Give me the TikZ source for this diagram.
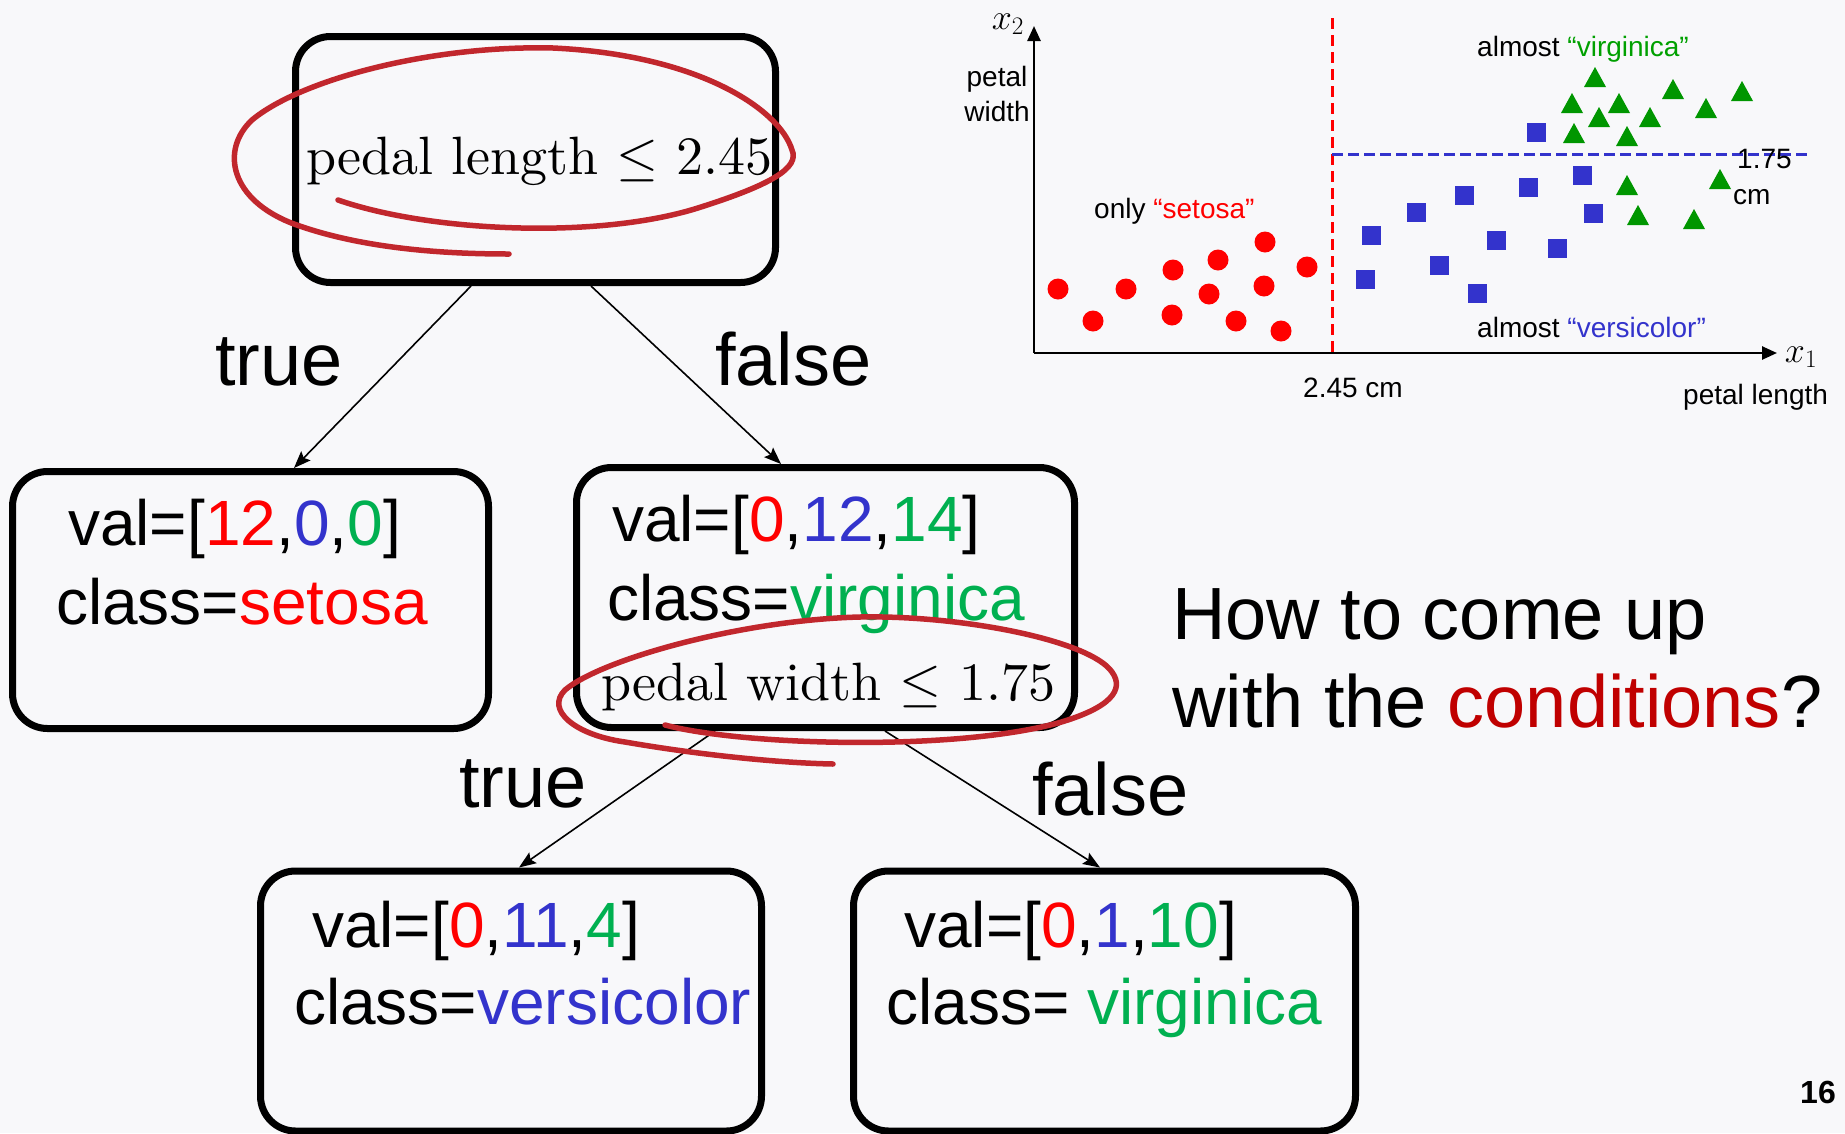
\RequirePackage{fix-cm}
\documentclass[tikz,border=0pt]{standalone}
\usepackage{fontspec}
\newfontfamily\arial{Liberation Sans}
\newfontfamily\lmten{lmroman10-regular.otf}
\usetikzlibrary{arrows.meta,calc}
\definecolor{bg}{RGB}{248,248,250}
\definecolor{cred}{RGB}{255,0,0}
\definecolor{cblue}{RGB}{51,51,204}
\definecolor{cgreen}{RGB}{0,176,80}
\definecolor{pgreen}{RGB}{0,150,0}
\definecolor{lgreen}{RGB}{0,160,0}
\definecolor{cdred}{RGB}{192,0,0}
\definecolor{scr}{RGB}{193,39,45}
\tikzset{
  tbox/.style={draw, line width=7pt, rounded corners=35pt, inner sep=0pt},
  edge/.style={line width=1.6pt, -{Stealth[length=17pt,width=13pt,inset=3pt]}},
  treetxt/.style={font=\arial\fontsize{64}{70}\selectfont, anchor=base west, inner sep=0pt},
  cond/.style={font=\lmten\fontsize{54}{60}\selectfont, anchor=base west, inner sep=0pt},
  lbl/.style={font=\arial\fontsize{74}{80}\selectfont, anchor=base west, inner sep=0pt},
  ptxt/.style={font=\arial\fontsize{28}{32}\selectfont, inner sep=0pt},
  mtxt/.style={font=\fontsize{36}{42}\selectfont, inner sep=0pt},
  scribble/.style={draw=scr, line width=5.5pt, line cap=round},
  axis/.style={line width=2.5pt, -{Triangle[length=15pt,width=13pt]}}
}
\begin{document}
\begin{tikzpicture}[x=1pt,y=-1pt]
\fill[bg] (0,0) rectangle (1845,1133);
\useasboundingbox (0,0) rectangle (1845,1133);

% ---- tree boxes
\node[tbox, minimum width=480pt, minimum height=246pt] (root) at (535.5,159.5) {};
\node[tbox, minimum width=476pt, minimum height=257pt] (left) at (250.5,600) {};
\node[tbox, minimum width=498pt, minimum height=260pt] (mid) at (825.5,597.5) {};
\node[tbox, minimum width=501pt, minimum height=260pt] (bl) at (511,1001) {};
\node[tbox, minimum width=502pt, minimum height=260pt] (br) at (1104.5,1001) {};

% ---- texts in boxes
\node[cond] (rcond) at (306,174) {pedal length $\leq$ 2.45};
\node[treetxt] (lval) at (68,545) {val=[\textcolor{cred}{12},\textcolor{cblue}{0},\textcolor{cgreen}{0}]};
\node[treetxt] (lcls) at (56,624) {class=\textcolor{cred}{setosa}};
\node[treetxt] (mval) at (612,541) {val=[\textcolor{cred}{0},\textcolor{cblue}{12},\textcolor{cgreen}{14}]};
\node[treetxt] (mcls) at (607,620) {class=\textcolor{cgreen}{virginica}};
\node[cond] (mcond) at (601,700) {pedal width $\leq$ 1.75};
\node[treetxt] (blval) at (312,947) {val=[\textcolor{cred}{0},\textcolor{cblue}{11},\textcolor{cgreen}{4}]};
\node[treetxt] (blcls) at (294,1024) {class=\textcolor{cblue}{versicolor}};
\node[treetxt] (brval) at (904,947) {val=[\textcolor{cred}{0},\textcolor{cblue}{1},\textcolor{cgreen}{10}]};
\node[treetxt] (brcls) at (886,1024) {class= \textcolor{cgreen}{virginica}};

% ---- edges
\draw[edge] ([xshift=-64.5pt]root.south) -- ([xshift=43.5pt]left.north);
\draw[edge] ([xshift=55.5pt]root.south) -- ([xshift=-44.5pt]mid.north);
\draw[edge] ([xshift=-110.5pt]mid.south) -- ([xshift=8pt]bl.north);
\draw[edge] ([xshift=59.5pt]mid.south) -- ([xshift=-4.5pt]br.north);

% ---- edge labels
\node[lbl] (t1) at (215,385) {true};
\node[lbl] (f1) at (715,385) {false};
\node[lbl] (t2) at (459,807) {true};
\node[lbl] (f2) at (1032,815) {false};

% ---- question
\node[lbl] (how1) at (1172,639) {How to come up};
\node[lbl] (how2) at (1172,727) {with the \textcolor{cdred}{conditions}?};

% ---- page number
\node[font=\arial\bfseries\fontsize{32}{36}\selectfont, anchor=base east, inner sep=0pt] (pg) at (1836,1103) {16};

% ---- scribbles
\draw[scribble] (338,200) .. controls (430,232) and (600,240) .. (701,207)
  .. controls (770,185) and (800,168) .. (792,150)
  .. controls (780,110) and (700,55) .. (553,48)
  .. controls (430,45) and (300,80) .. (252,120)
  .. controls (220,150) and (230,200) .. (294,224)
  .. controls (360,248) and (440,254) .. (509,254);
\draw[scribble] (665,725) .. controls (740,745) and (950,752) .. (1058,723)
  .. controls (1110,708) and (1125,690) .. (1112,672)
  .. controls (1090,640) and (960,615) .. (860,617)
  .. controls (740,620) and (600,660) .. (565,690)
  .. controls (545,710) and (575,735) .. (625,742)
  .. controls (700,755) and (780,763) .. (833,764);

% ---- scatter plot
\coordinate (O) at (1034,353);
\coordinate (xend) at (1777,353);
\coordinate (yend) at (1034,26);
\draw[axis] (O) -- (xend);
\draw[axis] (O) -- (yend);
\coordinate (vtop) at (1332,18);
\coordinate (vbot) at (1332,353);
\draw[cred, line width=3pt, dash pattern=on 11pt off 6pt] (vtop) -- (vbot);
\coordinate (hl) at (1332,154);
\coordinate (hr) at (1812,154);
\draw[cblue, line width=3pt, dash pattern=on 11pt off 5pt] (hl) -- (hr);

\foreach \px/\py in {1058/289,1093/321,1126/289,1173/270,1172/315,1218/260,1209/294,1265/242,1264/286,1236/321,1281/331,1307/267}
  \fill[cred] (\px,\py) circle (10.5);
\foreach \px/\py in {1536/132,1582/175,1528/187,1464/195,1416/212,1371/235,1593/213,1496/240,1439/265,1557/248,1365/279,1477/293}
  \fill[cblue] ({\px-9.5},{\py-9.5}) rectangle ++(19,19);
\foreach \px/\py in {1595/78,1572/104,1619/104,1673/90,1742/92,1706/109,1599/118,1650/118,1574/134,1627/137,1627/186,1720/180,1638/216,1694/220}
  \fill[pgreen] ({\px-11},{\py+9}) -- ({\px+11},{\py+9}) -- ({\px},{\py-11}) -- cycle;

\node[mtxt] (x2) at (1008,24) {$x_2$};
\node[mtxt] (x1) at (1801,357) {$x_1$};
\node[ptxt, anchor=base] (pw1) at (997,86) {petal};
\node[ptxt, anchor=base] (pw2) at (997,121) {width};
\node[ptxt, anchor=base] (v245) at (1353,397) {2.45 cm};
\node[ptxt, anchor=base west] (plen) at (1683,404) {petal length};
\node[ptxt, anchor=base west] (v175) at (1737,168) {1.75};
\node[ptxt, anchor=base west] (vcm) at (1733,204) {cm};
\node[ptxt, anchor=base west] (lset) at (1094,218) {only \textcolor{cred}{“setosa”}};
\node[ptxt, anchor=base west] (lvir) at (1477,56) {almost \textcolor{lgreen}{“virginica”}};
\node[ptxt, anchor=base west] (lver) at (1477,337) {almost \textcolor{cblue}{“versicolor”}};
\end{tikzpicture}
\end{document}
